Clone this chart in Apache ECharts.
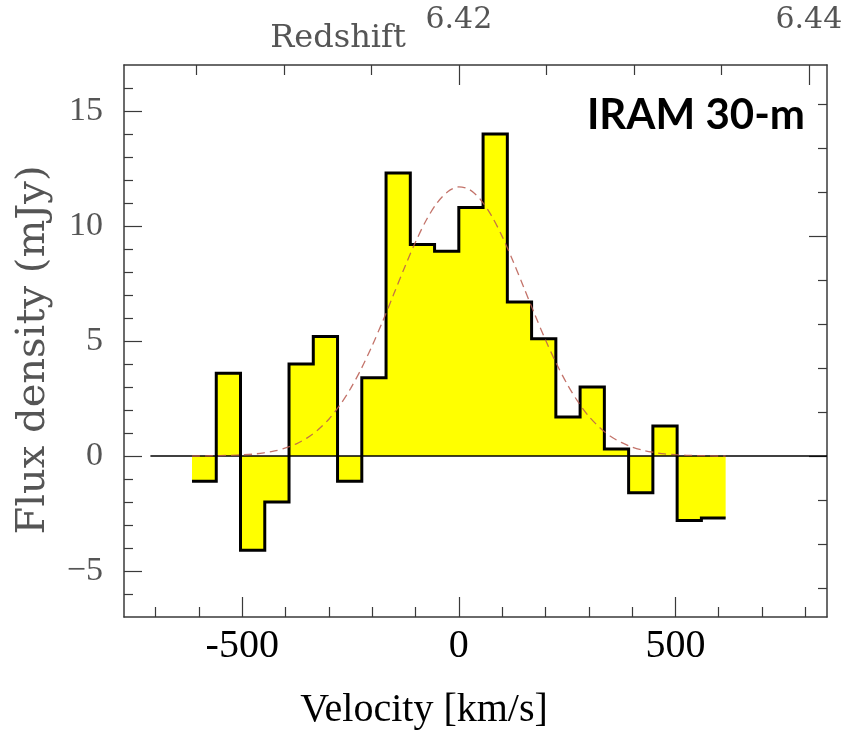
<!DOCTYPE html>
<html><head><meta charset="utf-8">
<script src="https://cdn.jsdelivr.net/npm/echarts@6/dist/echarts.min.js"></script>
<style>html,body{margin:0;padding:0;background:#fff}#c{width:846px;height:741px}</style>
</head><body><div id="c"></div>
<script>
// ---- data ----
const binEdges = [-616, -560, -504, -448, -392, -336, -280, -224, -168, -112, -56, 0, 56, 112, 168, 224, 280, 336, 392, 448, 504, 560, 616];
const fluxValues = [-1.1, 3.6, -4.1, -2.0, 4.0, 5.2, -1.1, 3.4, 12.3, 9.2, 8.9, 10.8, 14.0, 6.7, 5.1, 1.7, 3.0, 0.3, -1.6, 1.3, -2.8, -2.7];
const gaussVelocity = [-616, -600, -575, -550, -525, -500, -475, -450, -425, -400, -375, -350, -325, -300, -275, -250, -225, -200, -175, -150, -125, -100, -75, -50, -25, 0, 25, 50, 75, 100, 125, 150, 175, 200, 225, 250, 275, 300, 325, 350, 375, 400, 425, 450, 475, 500, 525, 550, 575, 600, 616];
const gaussFlux = [0.0, 0.0, 0.01, 0.02, 0.03, 0.05, 0.08, 0.14, 0.22, 0.35, 0.53, 0.79, 1.14, 1.60, 2.20, 2.93, 3.80, 4.80, 5.89, 7.05, 8.21, 9.30, 10.26, 11.01, 11.50, 11.70, 11.58, 11.15, 10.46, 9.55, 8.48, 7.33, 6.17, 5.05, 4.03, 3.13, 2.36, 1.73, 1.24, 0.86, 0.59, 0.39, 0.25, 0.16, 0.09, 0.06, 0.03, 0.02, 0.01, 0.0, 0.0];
const zeroLineVelocity = [-712, 850];

const xMajorTicks = [-500, 0, 500];
const xMinorTicks = [-700, -600, -400, -300, -200, -100, 100, 200, 300, 400, 600, 700, 800];
const yMajorTicks = [-5, 0, 5, 10, 15];
const yMinorTicks = [-6, -4, -3, -2, -1, 1, 2, 3, 4, 6, 7, 8, 9, 11, 12, 13, 14, 16];
const zMajorTicks = [6.42, 6.44];
const zMinorTicks = [6.405, 6.41, 6.415, 6.425, 6.43, 6.435];
const rightMajorTicks = [0, 5];
const rightMinorTicks = [-3, -2, -1, 1, 2, 3, 4, 6, 7, 8];

const X_MIN = -773, X_MAX = 850, Y_MIN = -7, Y_MAX = 17;
const Z0 = 6.42, C_KMS = 299792.458;
const RIGHT_UNIT = 1.91; // mJy per right-axis unit
function vOfZ(z) { return (z - Z0) * C_KMS / (1 + Z0); }
function zOfV(v) { return Z0 + v * (1 + Z0) / C_KMS; }

const FRAME = '#3a3a3a';
const PG = "'DejaVu Serif', serif";
const TIMES = "'Liberation Serif', 'Times New Roman', serif";

function xAxis(pos, ticks, len, labels, showLine, fmt, labelStyle) {
  return {
    type: 'value', position: pos, min: X_MIN, max: X_MAX,
    axisLine: { show: showLine, onZero: false, lineStyle: { color: FRAME, width: 1.5 } },
    axisTick: { show: true, inside: true, length: len, customValues: ticks, lineStyle: { color: FRAME, width: 1.2 } },
    axisLabel: labels ? Object.assign({ show: true, customValues: labels, formatter: fmt }, labelStyle) : { show: false },
    splitLine: { show: false }
  };
}
function yAxis(pos, min, max, ticks, len, labels, showLine, fmt, labelStyle) {
  return {
    type: 'value', position: pos, min: min, max: max,
    axisLine: { show: showLine, onZero: false, lineStyle: { color: FRAME, width: 1.5 } },
    axisTick: { show: true, inside: true, length: len, customValues: ticks, lineStyle: { color: FRAME, width: 1.2 } },
    axisLabel: labels ? Object.assign({ show: true, customValues: labels, formatter: fmt }, labelStyle) : { show: false },
    splitLine: { show: false }
  };
}

const stepData = binEdges.map((e, i) => [e, i < fluxValues.length ? fluxValues[i] : fluxValues[fluxValues.length - 1]]);
const gaussData = gaussVelocity.map((v, i) => [v, gaussFlux[i]]);
const zeroData = zeroLineVelocity.map(v => [v, 0]);

const chart = echarts.init(document.getElementById('c'), null, { renderer: 'canvas' });
chart.setOption({
  animation: false,
  backgroundColor: '#ffffff',
  grid: { left: 124, right: 19, top: 65, bottom: 124, containLabel: false },
  xAxis: [
    xAxis('bottom', xMajorTicks, 20, xMajorTicks, true, v => String(v),
      { margin: 9, color: '#000', fontFamily: TIMES, fontSize: 40 }),
    xAxis('bottom', xMinorTicks, 10, null, false),
    xAxis('top', zMajorTicks.map(vOfZ), 20, zMajorTicks.map(vOfZ), true, v => zOfV(v).toFixed(2),
      { margin: 30, color: '#555', fontFamily: PG, fontSize: 30 }),
    xAxis('top', zMinorTicks.map(vOfZ), 10, null, false)
  ],
  yAxis: [
    yAxis('left', Y_MIN, Y_MAX, yMajorTicks, 18, yMajorTicks, true, v => (v < 0 ? '\u2212' + Math.abs(v) : String(v)),
      { margin: 21, color: '#555', fontFamily: TIMES, fontSize: 34 }),
    yAxis('left', Y_MIN, Y_MAX, yMinorTicks, 9, null, false),
    yAxis('right', Y_MIN / RIGHT_UNIT, Y_MAX / RIGHT_UNIT, rightMajorTicks, 18, null, true),
    yAxis('right', Y_MIN / RIGHT_UNIT, Y_MAX / RIGHT_UNIT, rightMinorTicks, 9, null, false)
  ],
  series: [
    {
      type: 'line', name: 'flux', data: stepData, step: 'end', xAxisIndex: 0, yAxisIndex: 0,
      showSymbol: false, symbol: 'none', z: 2,
      lineStyle: { color: '#000', width: 3, join: 'miter' },
      areaStyle: { color: '#ffff00', opacity: 1, origin: 'auto' }
    },
    {
      type: 'line', name: 'zero', data: zeroData, xAxisIndex: 0, yAxisIndex: 0,
      showSymbol: false, symbol: 'none', z: 3,
      lineStyle: { color: '#000', width: 1.3 }
    },
    {
      type: 'line', name: 'fit', data: gaussData, xAxisIndex: 0, yAxisIndex: 0,
      showSymbol: false, symbol: 'none', smooth: 0.3, z: 4,
      lineStyle: { color: '#b85a50', width: 1.3, type: [8, 5], opacity: 0.85 }
    }
  ],
  graphic: [
    { type: 'text', x: 338, y: 39, style: { text: 'Redshift', fill: '#555', font: "32px 'DejaVu Serif', serif", textAlign: 'center', textVerticalAlign: 'middle' } },
    { type: 'text', x: 34, y: 350, rotation: Math.PI / 2, style: { text: 'Flux density (mJy)', fill: '#555', font: "40px 'DejaVu Serif', serif", textAlign: 'center', textVerticalAlign: 'middle' } },
    { type: 'text', x: 424, y: 710, style: { text: 'Velocity [km/s]', fill: '#000', font: "40px 'Liberation Serif', serif", textAlign: 'center', textVerticalAlign: 'middle' } },
    { type: 'text', x: 805, y: 115, style: { text: 'IRAM 30-m', fill: '#000', font: "bold 42px Lato, 'Open Sans', sans-serif", textAlign: 'right', textVerticalAlign: 'middle' } }
  ]
});
</script></body></html>
